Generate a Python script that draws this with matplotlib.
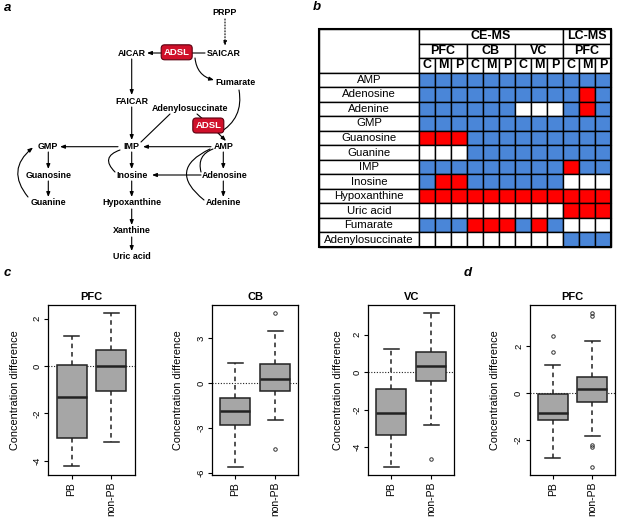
import matplotlib
matplotlib.use("Agg")
import matplotlib.pyplot as plt
from matplotlib.patches import Rectangle, FancyBboxPatch

plt.rcParams['font.family'] = ['Liberation Sans', 'DejaVu Sans']
plt.rcParams['axes.unicode_minus'] = False

# ---------------- data: panel b ----------------
metabolites = ["AMP", "Adenosine", "Adenine", "GMP", "Guanosine", "Guanine", "IMP",
               "Inosine", "Hypoxanthine", "Uric acid", "Fumarate", "Adenylosuccinate"]
platforms = ["CE-MS", "LC-MS"]
platform_spans = [9, 3]
regions = ["PFC", "CB", "VC", "PFC"]
subcols = ["C", "M", "P"]
# B = blue, R = red, W = white ; 12 columns: CE-MS PFC/CB/VC (C,M,P) and LC-MS PFC (C,M,P)
cell_status = [
    "BBBBBBBBBBBB",
    "BBBBBBBBBBRB",
    "BBBBBBWWWBRB",
    "BBBBBBBBBBBB",
    "RRRBBBBBBBBB",
    "WWWBBBBBBBBB",
    "BBBBBBBBBRBB",
    "BRRBBBBBBWWW",
    "RRRRRRRRRRRR",
    "WWWWWWWWWRRR",
    "BBBRRRBRBWWW",
    "WWWWWWWWWBBB",
]
status_colors = {"B": "#4a86d8", "R": "#ff0000", "W": "#ffffff"}

# ---------------- data: panels c, d ----------------
groups = ["PB", "non-PB"]
c_pfc_pb = dict(whislo=-4.22, q1=-3.05, med=-1.31, q3=0.04, whishi=1.25, fliers=[])
c_pfc_npb = dict(whislo=-3.20, q1=-1.05, med=0.00, q3=0.69, whishi=2.22, fliers=[])
c_cb_pb = dict(whislo=-5.62, q1=-2.84, med=-1.89, q3=-1.00, whishi=1.31, fliers=[])
c_cb_npb = dict(whislo=-2.47, q1=-0.55, med=0.27, q3=1.29, whishi=3.49, fliers=[4.67, -4.40])
c_vc_pb = dict(whislo=-5.04, q1=-3.37, med=-2.20, q3=-0.89, whishi=1.23, fliers=[])
c_vc_npb = dict(whislo=-2.80, q1=-0.50, med=0.34, q3=1.09, whishi=3.17, fliers=[-4.62])
d_pfc_pb = dict(whislo=-2.77, q1=-1.14, med=-0.83, q3=-0.02, whishi=1.21, fliers=[1.74, 2.46])
d_pfc_npb = dict(whislo=-1.82, q1=-0.39, med=0.18, q3=0.71, whishi=2.21,
                 fliers=[3.43, 3.29, -2.22, -2.30, -3.14])

W, H = 617, 520
fig = plt.figure(figsize=(W / 100, H / 100), dpi=100)

# ---------------- panel a: pathway diagram ----------------
pa = fig.add_axes([0, 0, 1, 1])
pa.set_xlim(0, W)
pa.set_ylim(H, 0)
pa.axis('off')

nodes = {
    "PRPP": (225, 12.3), "SAICAR": (224, 53.3), "AICAR": (131.7, 53.3),
    "Fumarate": (236, 82.3), "FAICAR": (131.7, 101), "Adenylosuccinate": (190, 108.3),
    "GMP": (48.3, 146.7), "IMP": (131.7, 146.7), "AMP": (223.3, 146.7),
    "Guanosine": (48.3, 175), "Inosine": (131.7, 175), "Adenosine": (224.3, 175),
    "Guanine": (48.3, 202.7), "Hypoxanthine": (131.7, 202.7), "Adenine": (223, 202.7),
    "Xanthine": (131.7, 230.7), "Uric acid": (131.7, 256.7),
}
for name, (x, y) in nodes.items():
    pa.text(x, y, name, ha='center', va='center', fontsize=6.4, fontweight='bold')

ah = dict(arrowstyle='-|>,head_length=0.28,head_width=0.11', lw=0.8, color='black',
          shrinkA=0, shrinkB=0)
ln = dict(arrowstyle='-', lw=0.8, color='black', shrinkA=0, shrinkB=0)


def arrow(p0, p1, style=ah, rad=0.0, ls='-'):
    st = dict(style)
    st['connectionstyle'] = f"arc3,rad={rad}"
    st['linestyle'] = ls
    pa.annotate("", xy=p1, xytext=p0, arrowprops=st)


arrow((225, 19), (225, 46), ls=':')
arrow((205, 53), (190, 53), style=ln)
arrow((162, 53), (147, 53))
arrow((195, 58), (214, 80), rad=0.35)
arrow((131.7, 59), (131.7, 95))
arrow((131.7, 107), (131.7, 140))
arrow((141, 142), (170, 114), style=ln)
arrow((197, 114), (204, 120), style=ln)
arrow((216, 131), (226, 141))
arrow((239, 90), (219, 133), style=ln, rad=-0.35)
arrow((118, 146.7), (60, 146.7))
arrow((211, 146.7), (143, 146.7))
arrow((48.3, 152), (48.3, 169))
arrow((48.3, 181), (48.3, 197))
arrow((28, 197), (33, 147.5), rad=-0.5)
arrow((131.7, 152), (131.7, 169))
arrow((115, 172), (120, 150), style=ln, rad=-0.8)
arrow((131.7, 181), (131.7, 197))
arrow((131.7, 209), (131.7, 225))
arrow((131.7, 237), (131.7, 251))
arrow((223.3, 152), (223.3, 169))
arrow((223.3, 181), (223.3, 197))
arrow((201, 175), (152, 175))
arrow((201, 172), (213, 149), style=ln, rad=-0.45)
arrow((204, 200), (210, 149), style=ln, rad=-0.8)

for (cx, cy) in [(176.7, 52.3), (208.3, 125.5)]:
    bw, bh = 31, 15
    pa.add_patch(FancyBboxPatch((cx - bw / 2, cy - bh / 2), bw, bh,
                                boxstyle="round,pad=0,rounding_size=3.5",
                                fc="#d0102a", ec="#5a0010", lw=0.8, zorder=5))
    pa.text(cx, cy, "ADSL", ha='center', va='center', color='white',
            fontsize=6.8, fontweight='bold', zorder=6)

# panel labels
for lab, x, y in [("a", 4, 8), ("b", 313, 7), ("c", 4, 273), ("d", 464, 273)]:
    pa.text(x, y, lab, ha='left', va='center', fontsize=9.5, fontweight='bold',
            fontstyle='italic')

# ---------------- panel b: table ----------------
tx0, tx1, ty0, ty1 = 319, 611, 29, 247
tb = fig.add_axes([tx0 / W, (H - ty1) / H, (tx1 - tx0) / W, (ty1 - ty0) / H])
labw = 6.25
ncol = 12
nrow_h = 3
nrows = nrow_h + len(metabolites)
tb.set_xlim(-labw, ncol)
tb.set_ylim(nrows, 0)
tb.axis('off')
lw = 1.0

# merged top-left cell
tb.add_patch(Rectangle((-labw, 0), labw, nrow_h, fc='white', ec='black', lw=lw, clip_on=False))
# platform row
x = 0
for p, span in zip(platforms, platform_spans):
    tb.add_patch(Rectangle((x, 0), span, 1, fc='white', ec='black', lw=lw, clip_on=False))
    tb.text(x + span / 2, 0.5, p, ha='center', va='center', fontsize=9, fontweight='bold')
    x += span
# region row
for i, rname in enumerate(regions):
    tb.add_patch(Rectangle((3 * i, 1), 3, 1, fc='white', ec='black', lw=lw, clip_on=False))
    tb.text(3 * i + 1.5, 1.5, rname, ha='center', va='center', fontsize=9, fontweight='bold')
# sub columns
for j in range(ncol):
    tb.add_patch(Rectangle((j, 2), 1, 1, fc='white', ec='black', lw=lw, clip_on=False))
    tb.text(j + 0.5, 2.5, subcols[j % 3], ha='center', va='center', fontsize=9,
            fontweight='bold')
# data rows
for r, (m, st) in enumerate(zip(metabolites, cell_status)):
    yy = nrow_h + r
    tb.add_patch(Rectangle((-labw, yy), labw, 1, fc='white', ec='black', lw=lw, clip_on=False))
    tb.text(-labw / 2, yy + 0.5, m, ha='center', va='center', fontsize=8.2)
    for j, s in enumerate(st):
        tb.add_patch(Rectangle((j, yy), 1, 1, fc=status_colors[s], ec='black', lw=lw,
                               clip_on=False))
tb.add_patch(Rectangle((-labw, 0), labw + ncol, nrows, fill=False, ec='black', lw=1.5,
                       clip_on=False, zorder=5))

# ---------------- panels c, d: boxplots ----------------
panels = [
    ("PFC", [c_pfc_pb, c_pfc_npb], (-4.6, 2.6), [-4, -2, 0, 2], 48.3, 86.4, -28),
    ("CB", [c_cb_pb, c_cb_npb], (-6.15, 5.25), [-6, -3, 0, 3], 212.3, 86.0, -29),
    ("VC", [c_vc_pb, c_vc_npb], (-5.48, 3.6), [-4, -2, 0, 2], 368.3, 86.0, -25),
    ("PFC", [d_pfc_pb, d_pfc_npb], (-3.5, 3.79), [-2, 0, 2], 530.0, 85.0, -30),
]
ay0, ay1 = 304.5, 475
for title, stats, ylim, yticks, left, width, ylab_off in panels:
    ax = fig.add_axes([left / W, (H - ay1) / H, width / W, (ay1 - ay0) / H])
    st = []
    for s, g in zip(stats, groups):
        d = dict(s)
        d['label'] = g
        st.append(d)
    ax.bxp(st, positions=[1, 2], widths=0.75, patch_artist=True, showfliers=True,
           boxprops=dict(facecolor='#a6a6a6', edgecolor='#222222', linewidth=1.1),
           whiskerprops=dict(linestyle=(0, (3, 2.5)), color='#222222', linewidth=1.1),
           capprops=dict(color='#222222', linewidth=1.1),
           medianprops=dict(color='#222222', linewidth=1.8),
           flierprops=dict(marker='o', markersize=2.5, markerfacecolor='none',
                           markeredgecolor='#333333', markeredgewidth=0.7),
           capwidths=0.375)
    ax.axhline(0, color='#222222', linestyle=(0, (1, 1.5)), linewidth=0.8, zorder=0)
    ax.set_xlim(0.42, 2.58)
    ax.set_ylim(*ylim)
    ax.set_yticks(yticks)
    ax.set_yticklabels([str(t) for t in yticks], rotation=90, va='center', fontsize=6.8)
    ax.set_xticks([1, 2])
    ax.set_xticklabels(groups, rotation=90, fontsize=7.5)
    ax.tick_params(direction='out', length=3, width=0.8, pad=2)
    ax.set_title(title, fontsize=8, fontweight='bold', pad=3)
    ax.set_ylabel("Concentration difference", fontsize=7.8)
    ax.yaxis.set_label_coords(ylab_off / width, 0.5)
    for sp in ax.spines.values():
        sp.set_linewidth(0.9)

fig.savefig("out.png", dpi=100)
